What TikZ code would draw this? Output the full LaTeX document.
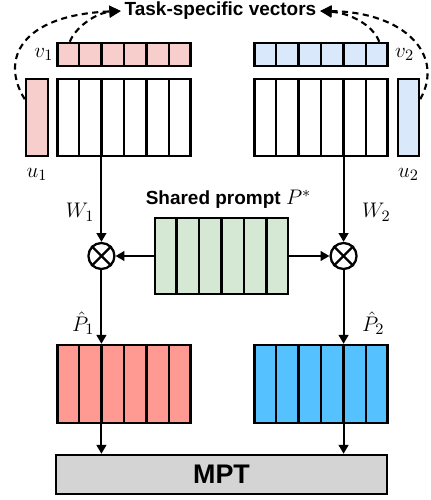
\documentclass[tikz,border=0pt]{standalone}
\usepackage{fontspec}
\setsansfont{Liberation Sans}
\usepackage{tikz}
\usetikzlibrary{arrows.meta,positioning,calc}
\definecolor{pinkv}{HTML}{F8CECC}
\definecolor{bluev}{HTML}{DAE8FC}
\definecolor{greenp}{HTML}{D5E8D4}
\definecolor{redp}{HTML}{FF9A93}
\definecolor{bluep}{HTML}{56C1FF}
\definecolor{grayb}{HTML}{D4D4D4}

\begin{document}
\begin{tikzpicture}[
    x=0.02cm, y=-0.02cm,
    font=\fontsize{10.8}{13}\selectfont,
    mat/.style={rectangle, draw, line width=1.4pt, inner sep=0pt, minimum width=2.66cm, minimum height=1.54cm},
    vec/.style={mat, minimum height=0.46cm},
    col/.style={mat, minimum width=0.44cm},
    mul/.style={circle, draw, line width=1.3pt, inner sep=0pt, minimum size=0.52cm},
    head/.style={font=\fontsize{10.8}{13}\selectfont\sffamily\bfseries, inner sep=2pt},
    lab/.style={inner sep=1pt, font=\fontsize{12.5}{15}\selectfont},
    conn/.style={line width=1.1pt, -{Triangle[length=5pt,width=5.5pt]}},
    hint/.style={line width=1.2pt, dash pattern=on 3.5pt off 2.5pt, -{Triangle[length=6.5pt,width=6.5pt]}}
]
    \useasboundingbox (0,0) rectangle (431,500);

    % Task 1
    \node[vec, fill=pinkv] (v1) at (124,54.5) {};
    \node[mat] (m1) at (124,117.5) {};
    \node[col, fill=pinkv] (u1) at (37,117.5) {};
    \node[lab, left=0.5pt of v1] (v1l) {$v_1$};
    \node[lab, below=5pt of u1] (u1l) {$u_1$};

    % Task 2
    \node[vec, fill=bluev] (v2) at (321,54.5) {};
    \node[mat] (m2) at (321,117.5) {};
    \node[col, fill=bluev, minimum width=0.42cm] (u2) at (408.5,117.5) {};
    \node[lab, right=2.5pt of v2] (v2l) {$v_2$};
    \node[lab, below=5pt of u2] (u2l) {$u_2$};

    \node[head] (tsv) at (220.5,11) {Task-specific vectors};

    % Shared prompt
    \node[mat, fill=greenp, minimum height=1.52cm] (g) at (221.5,256) {};
    \node[head, above=0.08cm of g, xshift=0.14cm] (gl) {Shared prompt \fontsize{12.5}{15}\selectfont$P^*$};

    % Outputs
    \node[mat, fill=redp, minimum height=1.56cm] (r1) at (124,384) {};
    \node[mat, fill=bluep, minimum height=1.56cm] (r2) at (321,384) {};
    \node[mat, fill=grayb, minimum width=6.62cm, minimum height=0.78cm,
          font=\fontsize{15.3}{18}\selectfont\sffamily\bfseries] (mpt) at (221.5,474.5) {MPT};

    % columns
    \foreach \b in {v1,m1,v2,m2,g,r1,r2}
        \foreach \i in {1,...,5}
            \draw[line width=1.4pt] ($(\b.north west)!\i/6!(\b.north east)$) -- ($(\b.south west)!\i/6!(\b.south east)$);

    % products
    \coordinate (m1c) at ($(m1.south west)!1/3!(m1.south east)$);
    \coordinate (m2c) at ($(m2.south west)!2/3!(m2.south east)$);
    \node[mul] (c1) at (m1c |- g) {};
    \node[mul] (c2) at (m2c |- g) {};
    \foreach \c in {c1,c2} {
        \draw[line width=1.3pt] (\c.north west) -- (\c.south east);
        \draw[line width=1.3pt] (\c.north east) -- (\c.south west);
    }

    \draw[conn] (m1c) -- node[lab, left=2.5pt, pos=0.65] {$W_1$} (c1);
    \draw[conn] (m2c) -- node[lab, right=9pt, pos=0.65] {$W_2$} (c2);
    \draw[conn] (g.west) -- (c1);
    \draw[conn] (g.east) -- (c2);
    \draw[conn] (c1) -- node[lab, left=2.5pt, pos=0.72] {$\hat{P}_1$} (c1 |- r1.north);
    \draw[conn] (c2) -- node[lab, right=9pt, pos=0.72] {$\hat{P}_2$} (c2 |- r2.north);
    \draw[conn] (c1 |- r1.south) -- (c1 |- mpt.north);
    \draw[conn] (c2 |- r2.south) -- (c2 |- mpt.north);

    % task-specific links
    \draw[hint] ($(v1.north west)!0.1!(v1.north east)$) .. controls (75,28) and (95,13) .. (tsv.west);
    \draw[hint] ($(u1.north west)!0.27!(u1.south west)$) .. controls (0,60) and (20,15) .. (tsv.west);
    \draw[hint] ($(v2.north west)!0.93!(v2.north east)$) .. controls (373,25) and (350,13) .. (tsv.east);
    \draw[hint] ($(u2.north east)!0.27!(u2.south east)$) .. controls (445,55) and (405,12) .. (tsv.east);
\end{tikzpicture}
\end{document}
